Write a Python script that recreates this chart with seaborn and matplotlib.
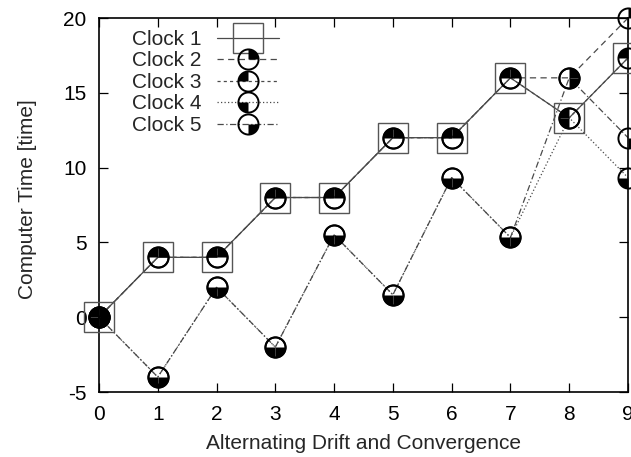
import numpy as np
import pandas as pd
import matplotlib
matplotlib.use('Agg')
import matplotlib.pyplot as plt
import seaborn as sns
from matplotlib.path import Path
from matplotlib.markers import MarkerStyle
from matplotlib.lines import Line2D
from matplotlib.legend_handler import HandlerTuple

# ---- data ----
steps = [0, 1, 2, 3, 4, 5, 6, 7, 8, 9]
clock1 = [0, 4, 4, 8, 8, 12, 12, 16, 13.33, 17.33]
clock2 = [0, 4, 4, 8, 8, 12, 12, 16, 16, 20]
clock3 = [0, 4, 4, 8, 8, 12, 12, 16, 13.33, 17.33]
clock4 = [0, -4, 2, -2, 5.5, 1.5, 9.33, 5.33, 13.33, 9.33]
clock5 = [0, -4, 2, -2, 5.5, 1.5, 9.33, 5.33, 16, 12]
labels = ['Clock 1', 'Clock 2', 'Clock 3', 'Clock 4', 'Clock 5']
x_ticks = [0, 1, 2, 3, 4, 5, 6, 7, 8, 9]
y_ticks = [-5, 0, 5, 10, 15, 20]
x_label = 'Alternating Drift and Convergence'
y_label = 'Computer Time [time]'

series = [clock1, clock2, clock3, clock4, clock5]

sns.set_theme(style='ticks')
plt.rcParams['font.family'] = ['Liberation Sans', 'DejaVu Sans']
plt.rcParams['font.size'] = 15
plt.rcParams['axes.unicode_minus'] = False

df = pd.DataFrame({
    'step': steps * 5,
    'time': sum(series, []),
    'clock': [lab for lab in labels for _ in steps],
})

fig = plt.figure(figsize=(6.31, 4.57), dpi=100)
ax = fig.add_axes([99 / 631, 65 / 457, 529 / 631, 374 / 457])

line_color = '#4a4a4a'
dash_map = {
    'Clock 1': '',
    'Clock 2': (5, 3.5),
    'Clock 3': (2.5, 2.5),
    'Clock 4': (1, 1.8),
    'Clock 5': (5, 2, 1, 2),
}
sns.lineplot(data=df, x='step', y='time', style='clock', dashes=dash_map,
             color=line_color, linewidth=0.9, legend=False, ax=ax,
             sort=False, estimator=None, clip_on=False)

# quadrant markers
quadrants = {1: (0, 90), 2: (90, 180), 3: (180, 270), 4: (270, 360)}
wedges = {k: MarkerStyle(Path.wedge(*v)) for k, v in quadrants.items()}
circle_ms = 14.5
square_ms = 21

ax.plot(steps, clock1, ls='none', marker='s', ms=square_ms, mfc='none',
        mec='#555555', mew=1.0, clip_on=False, zorder=3)
for i in range(1, 5):
    vals = series[i]
    ax.plot(steps, vals, ls='none', marker=wedges[i], ms=circle_ms, mfc='black',
            mec='none', mew=0, clip_on=False, zorder=4)
    ax.plot(steps, vals, ls='none', marker='o', ms=circle_ms, mfc='none',
            mec='black', mew=1.4, clip_on=False, zorder=5)

ax.set_xlim(0, 9)
ax.set_ylim(-5, 20)
ax.set_xticks(x_ticks)
ax.set_yticks(y_ticks)
ax.tick_params(direction='in', length=6.5, width=0.9, top=True, right=True,
               colors='black', labelsize=15, pad=9)
for s in ax.spines.values():
    s.set_visible(True)
    s.set_color('black')
    s.set_linewidth(1.2)

ax.set_xlabel(x_label, fontsize=15)
ax.set_ylabel(y_label, fontsize=15)
ax.xaxis.set_label_coords(0.5, -0.113)
ax.yaxis.set_label_coords(-0.117, 0.517)

# legend
handles = [(Line2D([], [], color=line_color, lw=0.9),
            Line2D([], [], ls='none', marker='s', ms=square_ms, mfc='none', mec='#555555', mew=1.0))]
for i in range(1, 5):
    d = dash_map[labels[i]]
    ln = Line2D([], [], color=line_color, lw=0.9)
    ln.set_dashes(d)
    handles.append((ln,
                    Line2D([], [], ls='none', marker=wedges[i], ms=circle_ms, mfc='black', mec='none'),
                    Line2D([], [], ls='none', marker='o', ms=circle_ms, mfc='none', mec='black', mew=1.4)))
leg = ax.legend(handles, labels, handler_map={tuple: HandlerTuple(ndivide=1)},
                loc='upper left', bbox_to_anchor=(0.0624, 0.968), borderaxespad=0,
                borderpad=0, frameon=False, markerfirst=False, handlelength=2.98,
                handletextpad=0.72, labelspacing=0.12, fontsize=15)

fig.savefig('out.png', dpi=100)
